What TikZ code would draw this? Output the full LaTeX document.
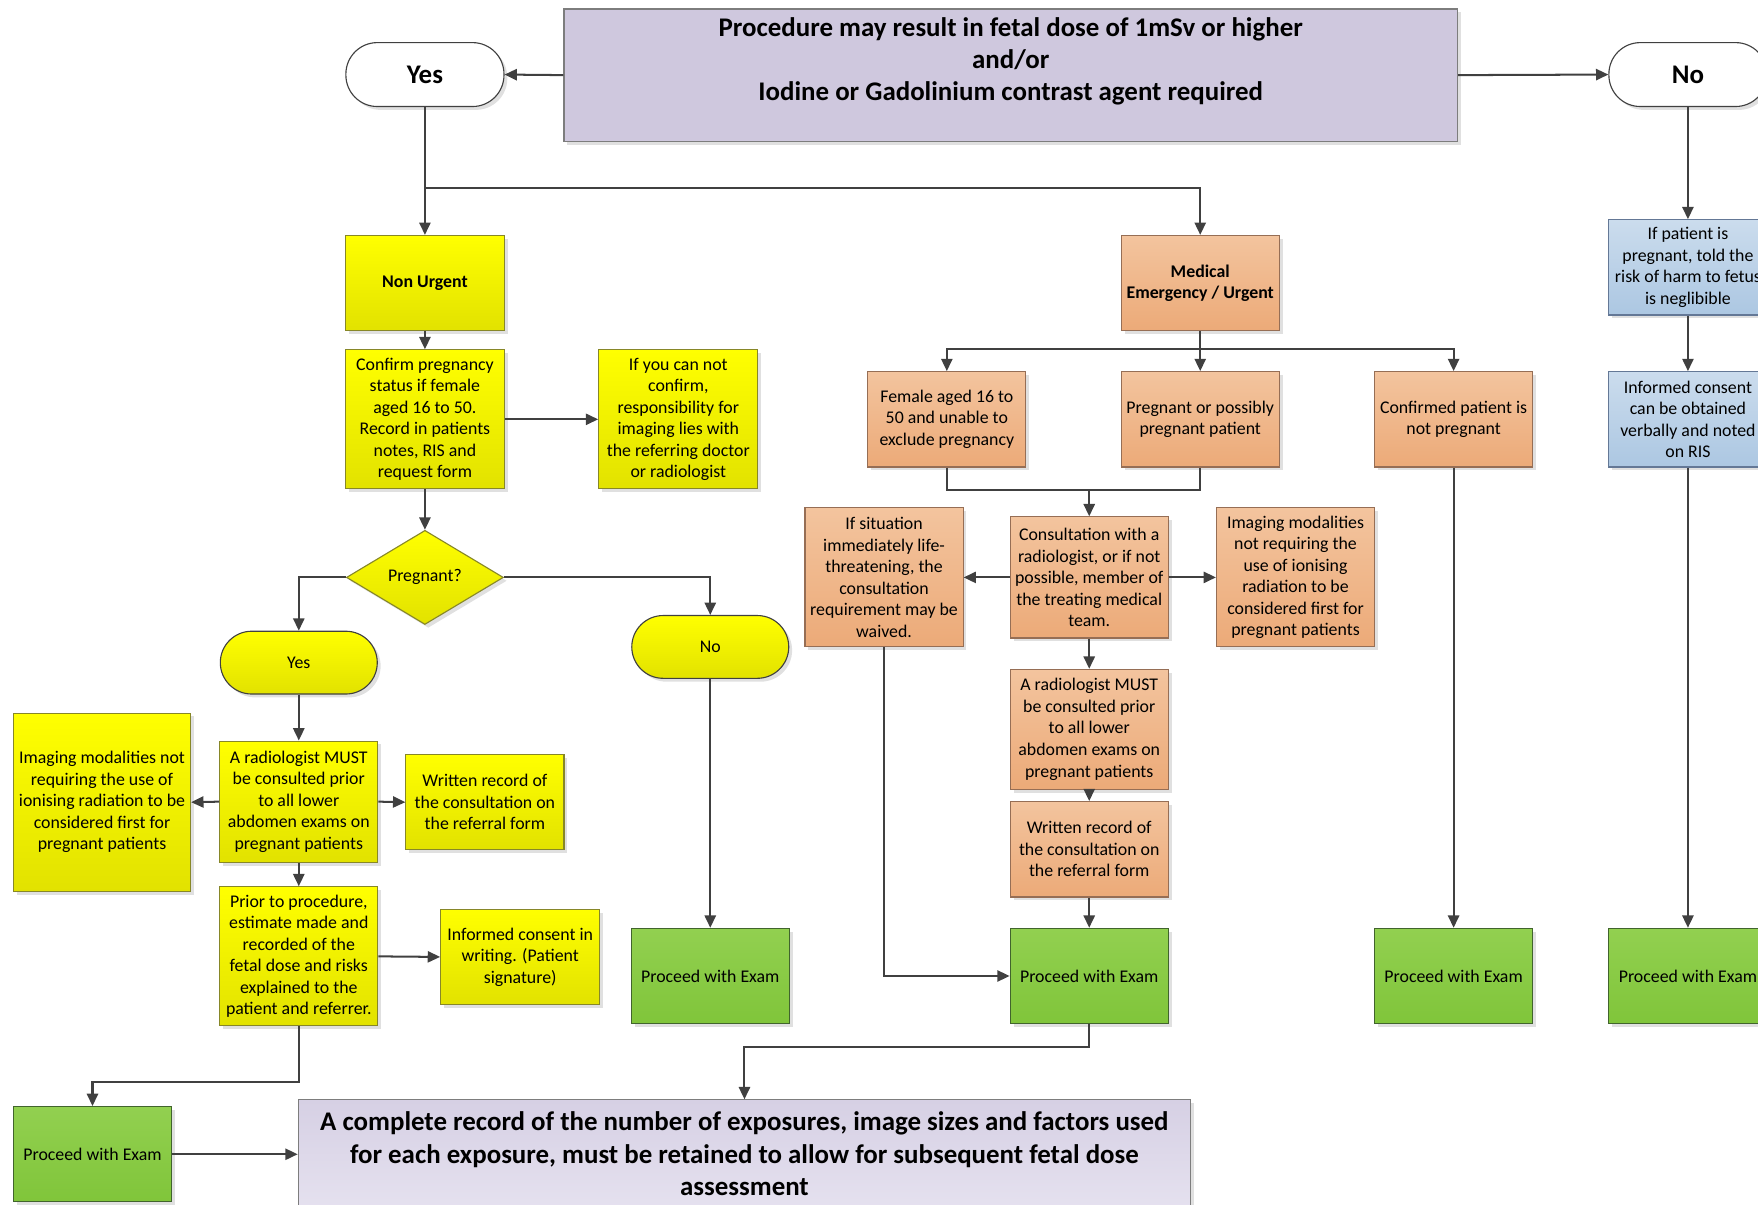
\documentclass[tikz,border=0pt]{standalone}
\usepackage{fontspec}
\setmainfont{Carlito}
\usetikzlibrary{shapes.geometric,shadows,arrows.meta}
\definecolor{yelT}{RGB}{255,255,0}
\definecolor{yelB}{RGB}{226,226,0}
\definecolor{yelD}{RGB}{135,135,40}
\definecolor{orT}{RGB}{243,196,158}
\definecolor{orB}{RGB}{236,170,120}
\definecolor{orD}{RGB}{150,110,85}
\definecolor{grT}{RGB}{146,208,80}
\definecolor{grB}{RGB}{128,197,58}
\definecolor{grD}{RGB}{65,100,45}
\definecolor{blT}{RGB}{203,220,237}
\definecolor{blB}{RGB}{172,199,226}
\definecolor{blD}{RGB}{100,120,150}
\definecolor{lavA}{RGB}{207,200,222}
\definecolor{lavB}{RGB}{214,208,228}
\definecolor{lavC}{RGB}{229,225,239}
\definecolor{bordG}{RGB}{125,125,125}
\definecolor{arrc}{RGB}{64,64,64}
\newcommand{\smallfs}{\fontsize{15.9}{19.2}\selectfont}
\newcommand{\bigfs}{\fontsize{24}{28.6}\selectfont\bfseries}
\tikzset{
  shad/.style={drop shadow={shadow xshift=3pt,shadow yshift=-3pt,fill=black,opacity=0.12}},
  box/.style={rectangle, inner sep=2pt, align=center, font=\smallfs, text=black, line width=1pt, minimum width=141pt, minimum height=85pt, shad},
  yel/.style={box, draw=yelD, top color=yelT, bottom color=yelB},
  org/.style={box, draw=orD, top color=orT, bottom color=orB},
  grn/.style={box, draw=grD, top color=grT, bottom color=grB},
  blu/.style={box, draw=blD, top color=blT, bottom color=blB},
  termw/.style={rectangle, rounded corners=28pt, draw=arrc, fill=white, line width=1pt, minimum width=141pt, minimum height=57pt, font=\bigfs, shad},
  termy/.style={rectangle, rounded corners=28pt, draw=arrc, top color=yelT, bottom color=yelB, line width=1pt, minimum width=140pt, minimum height=56pt, font=\smallfs, shad},
  arr/.style={draw=arrc, line width=1.8pt, -{Triangle[length=11pt,width=10pt]}},
  ln/.style={draw=arrc, line width=1.8pt},
}
\begin{document}
\begin{tikzpicture}[x=1pt,y=-1pt]
\useasboundingbox (0,0) rectangle (1568,1074);
% top and bottom
\node[box, draw=bordG, fill=lavA, minimum width=797pt, minimum height=118pt, font=\bigfs] (top) at (901.5,67) {Procedure may result in fetal dose of 1mSv or higher\\and/or\\Iodine or Gadolinium contrast agent required\\ \mbox{}};
\node[box, draw=bordG, top color=lavB, bottom color=lavC, minimum width=796pt, minimum height=96pt, font=\bigfs] (bot) at (664,1029) {A complete record of the number of exposures, image sizes and factors used\\for each exposure, must be retained to allow for subsequent fetal dose\\assessment};
\node[termw] (yes) at (379,66.5) {Yes};
\node[termw] (no) at (1505.5,66.5) {No};
% non urgent branch
\node[yel, minimum width=142pt, font=\smallfs\bfseries] (nu) at (379,252.5) {Non Urgent};
\node[yel, minimum width=142pt, minimum height=124pt] (conf) at (379,374) {Confirm pregnancy\\status if female\\aged 16 to 50.\\Record in patients\\notes, RIS and\\request form};
\node[yel, minimum width=142pt, minimum height=124pt] (ifyou) at (605,374) {If you can not\\confirm,\\responsibility for\\imaging lies with\\the referring doctor\\or radiologist};
\node[diamond, draw=yelD, top color=yelT, bottom color=yelB, line width=1pt, minimum width=140pt, minimum height=84pt, inner sep=0pt, font=\smallfs, shad] (preg) at (379,515) {Pregnant?};
\node[termy] (yes2) at (266.5,591) {Yes};
\node[termy] (no2) at (633.5,577) {No};
\node[yel, minimum height=108pt] (rad) at (266.5,715) {A radiologist MUST\\be consulted prior\\to all lower\\abdomen exams on\\pregnant patients};
\node[yel, minimum width=158pt, minimum height=159pt] (img) at (91,715.5) {Imaging modalities not\\requiring the use of\\ionising radiation to be\\considered first for\\pregnant patients};
\node[yel] (wr) at (432.5,715.5) {Written record of\\the consultation on\\the referral form};
\node[yel, minimum height=124pt] (prior) at (266.5,853) {Prior to procedure,\\estimate made and\\recorded of the\\fetal dose and risks\\explained to the\\patient and referrer.};
\node[yel, minimum width=142pt] (inf) at (464,853.5) {Informed consent in\\writing. (Patient\\signature)};
\node[grn] (p1) at (82.5,1029.5) {Proceed with Exam};
\node[grn] (p2) at (633.5,870.5) {Proceed with Exam};
% emergency branch
\node[org, font=\smallfs\bfseries] (me) at (1070.5,252.5) {Medical\\Emergency / Urgent};
\node[org] (fem) at (844.5,374) {Female aged 16 to\\50 and unable to\\exclude pregnancy};
\node[org] (pp) at (1070.5,374) {Pregnant or possibly\\pregnant patient};
\node[org] (cnp) at (1296.5,374) {Confirmed patient is\\not pregnant};
\node[org, minimum height=108pt] (cons) at (971.5,515) {Consultation with a\\radiologist, or if not\\possible, member of\\the treating medical\\team.};
\node[org, minimum height=124pt] (sit) at (788.5,515) {If situation\\immediately life-\\threatening, the\\consultation\\requirement may be\\waived.};
\node[org, minimum height=124pt] (imgo) at (1155.5,515) {Imaging modalities\\not requiring the\\use of ionising\\radiation to be\\considered first for\\pregnant patients};
\node[org, minimum height=107pt] (rado) at (971.5,650.5) {A radiologist MUST\\be consulted prior\\to all lower\\abdomen exams on\\pregnant patients};
\node[org] (wro) at (971.5,757.5) {Written record of\\the consultation on\\the referral form};
\node[grn] (p3) at (971.5,870.5) {Proceed with Exam};
\node[grn] (p4) at (1296.5,870.5) {Proceed with Exam};
% no branch
\node[blu] (b1) at (1505.5,238.5) {If patient is\\pregnant, told the\\risk of harm to fetus\\is neglibible};
\node[blu] (b2) at (1505.5,374) {Informed consent\\can be obtained\\verbally and noted\\on RIS};
\node[grn] (p5) at (1505.5,870.5) {Proceed with Exam};
% connectors
\draw[arr] (top.west) -- (yes.east);
\draw[arr] (top.east) -- (no.west);
\draw[arr] (yes.south) -- (nu.north);
\draw[arr] (yes.south |- 0,168) -| (me.north);
\draw[arr] (nu.south) -- (conf.north);
\draw[arr] (conf.east) -- (ifyou.west);
\draw[arr] (conf.south) -- (preg.north);
\draw[arr] (preg.west) -| (yes2.north);
\draw[arr] (preg.east) -| (no2.north);
\draw[arr] (yes2.south) -- (rad.north);
\draw[arr] (rad.west) -- (img.east);
\draw[arr] (rad.east) -- (wr.west);
\draw[arr] (rad.south) -- (prior.north);
\draw[arr] (prior.east) -- (inf.west);
\draw[arr] (prior.south) -- (prior.south |- 0,965) -| (p1.north);
\draw[arr] (p1.east) -- (p1.east -| bot.west);
\draw[arr] (no2.south) -- (p2.north);
\draw[arr] (me.south) -- (pp.north);
\draw[arr] (me.south |- 0,311) -| (fem.north);
\draw[arr] (me.south |- 0,311) -| (cnp.north);
\draw[ln] (fem.south) |- (0,437 -| pp.south) -- (pp.south);
\draw[arr] (cons.north |- 0,437) -- (cons.north);
\draw[arr] (cons.west) -- (sit.east);
\draw[arr] (cons.east) -- (imgo.west);
\draw[arr] (cons.south) -- (rado.north);
\draw[arr] (rado.south) -- (wro.north);
\draw[arr] (wro.south) -- (p3.north);
\draw[arr] (sit.south) |- (p3.west);
\draw[arr] (p3.south) -- (p3.south |- 0,934) -| (bot.north);
\draw[arr] (cnp.south) -- (p4.north);
\draw[arr] (no.south) -- (b1.north);
\draw[arr] (b1.south) -- (b2.north);
\draw[arr] (b2.south) -- (p5.north);
\end{tikzpicture}
\end{document}
